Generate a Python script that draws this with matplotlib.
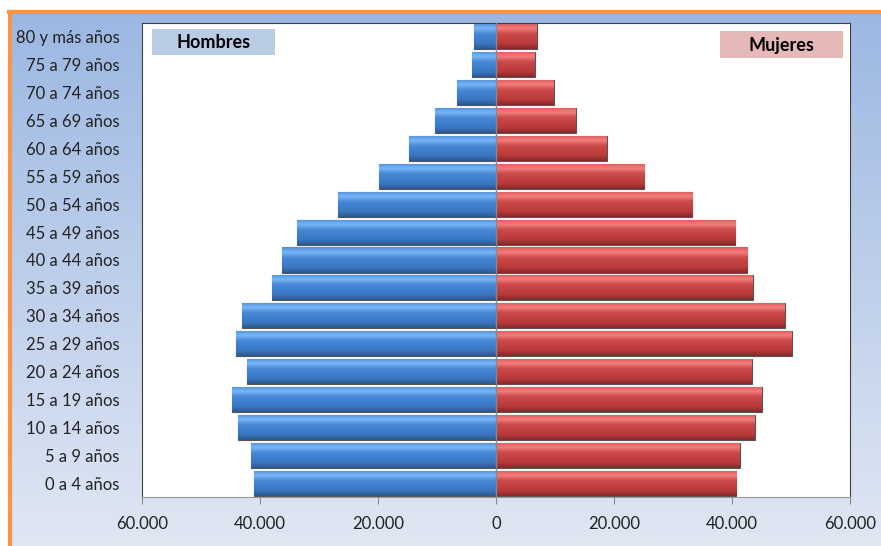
import numpy as np
import matplotlib.pyplot as plt
from matplotlib.colors import LinearSegmentedColormap, to_rgb
from matplotlib.ticker import FuncFormatter
from matplotlib.lines import Line2D
from matplotlib.patches import Rectangle

grupos = ["0 a 4 años", "5 a 9 años", "10 a 14 años", "15 a 19 años", "20 a 24 años",
          "25 a 29 años", "30 a 34 años", "35 a 39 años", "40 a 44 años", "45 a 49 años",
          "50 a 54 años", "55 a 59 años", "60 a 64 años", "65 a 69 años", "70 a 74 años",
          "75 a 79 años", "80 y más años"]
hombres = [41100, 41540, 43650, 44830, 42170, 44090, 42970, 38050, 36350, 33690,
           26730, 19770, 14680, 10320, 6650, 4100, 3650]
mujeres = [40700, 41320, 43820, 45060, 43360, 50150, 48910, 43530, 42560, 40590,
           33290, 25150, 18800, 13540, 9810, 6590, 6930]
xticks = [-60000, -40000, -20000, 0, 20000, 40000, 60000]

plt.rcParams['font.family'] = ['Lato', 'DejaVu Sans']

fig = plt.figure(figsize=(8.81, 5.46), dpi=100)

# fondo degradado
bg = fig.add_axes([0, 0, 1, 1], zorder=0)
top = np.array(to_rgb("#9ab6e2"))
bot = np.array(to_rgb("#e0e7f3"))
t = np.linspace(0, 1, 256)[:, None]
grad = top * (1 - t) + bot * t
bg.imshow(grad[:, None, :].repeat(2, axis=1), aspect='auto', extent=(0, 1, 0, 1))
bg.fill_between([0, 1], 1 - 10 / 546, 1, color="white", zorder=2)
bg.fill_between([0, 8 / 881], 0, 1, color="white", zorder=2)
bg.set_xlim(0, 1)
bg.set_ylim(0, 1)
bg.axis("off")
fig.add_artist(Line2D([9 / 881, 1], [1 - 11.5 / 546] * 2, color="#f79646", lw=3, zorder=3))
fig.add_artist(Line2D([9.5 / 881] * 2, [0, 1 - 11.5 / 546], color="#f79646", lw=3, zorder=3))

ax = fig.add_axes([142 / 881, 1 - 497 / 546, (850 - 142) / 881, (497 - 23) / 546], zorder=1)
ax.set_facecolor("white")

y = np.arange(len(grupos))
h = 0.9

cm_h = LinearSegmentedColormap.from_list("h", ["#2a5890", "#3a76c0", "#3d7fcc", "#4a8ad8", "#78b6f6", "#4f90dc"])
cm_m = LinearSegmentedColormap.from_list("m", ["#882828", "#b73939", "#c24242", "#cc4a4a", "#f47e7e", "#dc5858"])
g = np.linspace(0, 1, 64)[:, None]

bars_h = ax.barh(y, [-v for v in hombres], height=h, color="#3a78c2", edgecolor="#555555", lw=0.8, zorder=2)
bars_m = ax.barh(y, mujeres, height=h, color="#c04040", edgecolor="#555555", lw=0.8, zorder=2)
for bars, cm in [(bars_h, cm_h), (bars_m, cm_m)]:
    for b in bars:
        x0, y0 = b.get_x(), b.get_y()
        im = ax.imshow(g, cmap=cm, aspect='auto', origin='lower', zorder=2.5,
                       extent=(x0, x0 + b.get_width(), y0, y0 + b.get_height()))
        im.set_clip_path(b)

ax.axvline(0, color="#888888", lw=1, zorder=3)
ax.set_xlim(-60000, 60000)
ax.set_ylim(-0.5, len(grupos) - 0.5)
ax.set_yticks(y)
ax.set_yticklabels(grupos, fontsize=12, color="#222222")
ax.set_xticks(xticks)
ax.xaxis.set_major_formatter(FuncFormatter(lambda v, p: f"{abs(v):,.0f}".replace(",", ".")))
ax.tick_params(axis="x", labelsize=12, colors="#222222", length=5, color="#888888", pad=9)
ax.tick_params(axis="y", length=0, pad=16)
for lado in ["top", "right", "left"]:
    ax.spines[lado].set_color("#404040")
ax.spines["bottom"].set_color("#999999")

# rotulos de serie
ax.add_patch(Rectangle((0.0141, 0.932), 0.174, 0.055, transform=ax.transAxes,
                       fc="#b8cce4", ec="none", zorder=4))
ax.text(0.101, 0.959, "Hombres", transform=ax.transAxes, ha="center", va="center",
        fontsize=13, fontweight="bold", color="black", zorder=5)
ax.add_patch(Rectangle((0.8164, 0.926), 0.174, 0.057, transform=ax.transAxes,
                       fc="#e6b8b7", ec="none", zorder=4))
ax.text(0.903, 0.953, "Mujeres", transform=ax.transAxes, ha="center", va="center",
        fontsize=13, fontweight="bold", color="black", zorder=5)

fig.savefig("out.png", dpi=100)
